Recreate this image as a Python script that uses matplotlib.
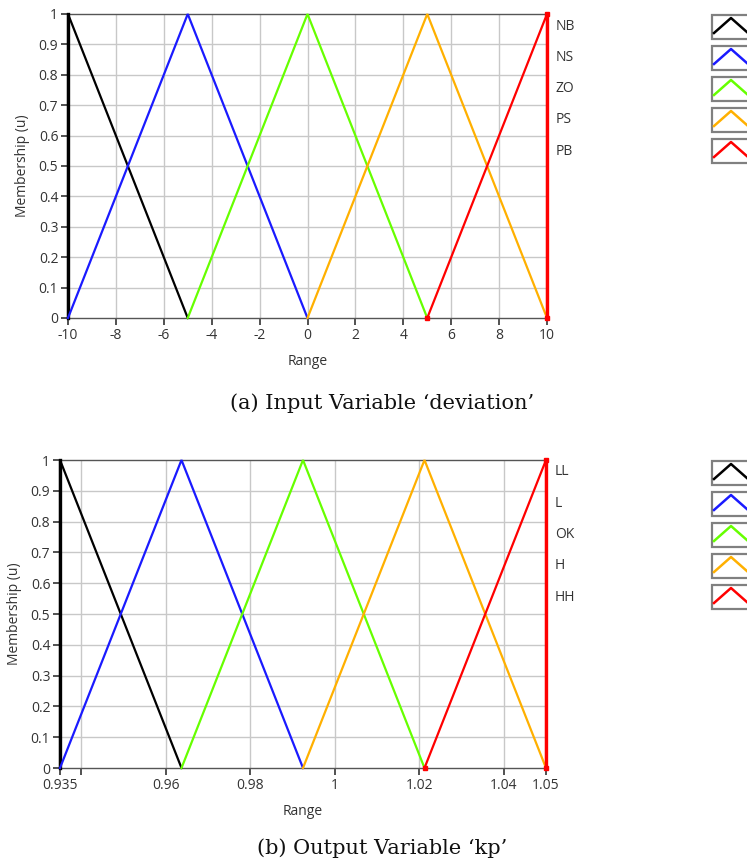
import matplotlib
matplotlib.use("Agg")
import matplotlib.pyplot as plt
from matplotlib.patches import Rectangle
from matplotlib.lines import Line2D

W, H = 747, 865

# ---- data ----
in_names = ["NB", "NS", "ZO", "PS", "PB"]
in_params = [(-10, -10, -5), (-10, -5, 0), (-5, 0, 5), (0, 5, 10), (5, 10, 10)]
in_xticks = [-10, -8, -6, -4, -2, 0, 2, 4, 6, 8, 10]

out_names = ["LL", "L", "OK", "H", "HH"]
out_params = [(0.935, 0.935, 0.96375), (0.935, 0.96375, 0.9925),
              (0.96375, 0.9925, 1.02125), (0.9925, 1.02125, 1.05),
              (1.02125, 1.05, 1.05)]
out_xticks = [0.935, 0.96, 0.98, 1, 1.02, 1.04, 1.05]
out_xtick_labels = ["0.935", "0.96", "0.98", "1", "1.02", "1.04", "1.05"]
out_grid = [0.94, 0.96, 0.98, 1.0, 1.02, 1.04]

yticks = [0, 0.1, 0.2, 0.3, 0.4, 0.5, 0.6, 0.7, 0.8, 0.9, 1]
ytick_labels = ["0", "0.1", "0.2", "0.3", "0.4", "0.5", "0.6", "0.7", "0.8", "0.9", "1"]

colors = ["#000000", "#1a1aff", "#66ff00", "#ffb000", "#ff0000"]

UI_FONT = "Open Sans"
TXT = "#333333"
FS = 10

fig = plt.figure(figsize=(W / 100, H / 100), dpi=100)


def add_ax(left, top, right, bottom):
    return fig.add_axes([left / W, 1 - bottom / H, (right - left) / W, (bottom - top) / H])


def draw_panel(ax, params, names, xlim, xticks, xticklabels, grid_x, minor_x, label_x, label_y0, box_y0, caption, cap_y):
    ax.set_xlim(*xlim)
    ax.set_ylim(0, 1)
    for (a, b, c), col in zip(params, colors):
        ax.plot([a, b, c], [0, 1, 0], color=col, lw=1.6, clip_on=False, zorder=3, solid_joinstyle="miter")
        if a == b:
            ax.plot([a, a], [0, 1], color=col, lw=2.4, clip_on=False, zorder=3)
        if b == c:
            ax.plot([c, c], [0, 1], color=col, lw=2.4, clip_on=False, zorder=3)
    last = params[-1]
    ax.plot([last[0], last[2], last[2]], [0, 0, 1], ls="none", marker="s", ms=3.5,
            color=colors[-1], clip_on=False, zorder=4)
    for gx in grid_x:
        ax.axvline(gx, color="#c8c8c8", lw=1.0, zorder=1)
    for gy in yticks[1:-1]:
        ax.axhline(gy, color="#c8c8c8", lw=1.0, zorder=1)
    ax.set_xticks(xticks)
    ax.set_xticklabels(xticklabels)
    if minor_x:
        ax.set_xticks(minor_x, minor=True)
        ax.tick_params(axis="x", which="minor", length=5, width=1.2, color="#333333", direction="out")
    ax.set_yticks(yticks)
    ax.set_yticklabels(ytick_labels)
    ax.tick_params(axis="both", which="major", labelsize=FS, length=5, width=1.2,
                   color="#333333", labelcolor=TXT, direction="out", pad=2)
    for lab in ax.get_xticklabels() + ax.get_yticklabels():
        lab.set_fontfamily(UI_FONT)
    for s in ["top", "right", "left", "bottom"]:
        ax.spines[s].set_color("#555555")
        ax.spines[s].set_linewidth(1.0)
    ax.spines["right"].set_visible(False)
    ax.set_xlabel("Range", fontsize=FS, family=UI_FONT, color=TXT, labelpad=8)
    ax.set_ylabel("Membership (u)", fontsize=FS, family=UI_FONT, color=TXT, labelpad=6)

    for i, nm in enumerate(names):
        fig.text(label_x / W, 1 - (label_y0 + i * 31.3) / H, nm, fontsize=FS, family=UI_FONT,
                 color=TXT, va="center", ha="left")
    for i, col in enumerate(colors):
        y0 = box_y0 + i * 31.0
        rect = Rectangle((712 / W, 1 - (y0 + 24) / H), 45 / W, 24 / H, transform=fig.transFigure,
                         facecolor="white", edgecolor="#808080", lw=1.6)
        fig.add_artist(rect)
        xs = [714, 731, 748]
        ys = [y0 + 18, y0 + 3, y0 + 18]
        fig.add_artist(Line2D([x / W for x in xs], [1 - y / H for y in ys], transform=fig.transFigure,
                              color=col, lw=1.8))
    fig.text(0.511, 1 - cap_y / H, caption, fontsize=15, family="DejaVu Serif",
             color="#111111", ha="center", va="center")


ax1 = add_ax(68, 14, 547, 318)
draw_panel(ax1, in_params, in_names, (-10, 10), in_xticks, [str(t) for t in in_xticks],
           [-8, -6, -4, -2, 0, 2, 4, 6, 8], None, 556, 26, 15,
           "(a) Input Variable \u2018deviation\u2019", 403)

ax2 = add_ax(60, 460, 546, 768)
draw_panel(ax2, out_params, out_names, (0.935, 1.05), out_xticks, out_xtick_labels,
           out_grid, [0.94], 555, 472, 461,
           "(b) Output Variable \u2018kp\u2019", 848)

fig.savefig("out.png", dpi=100)
